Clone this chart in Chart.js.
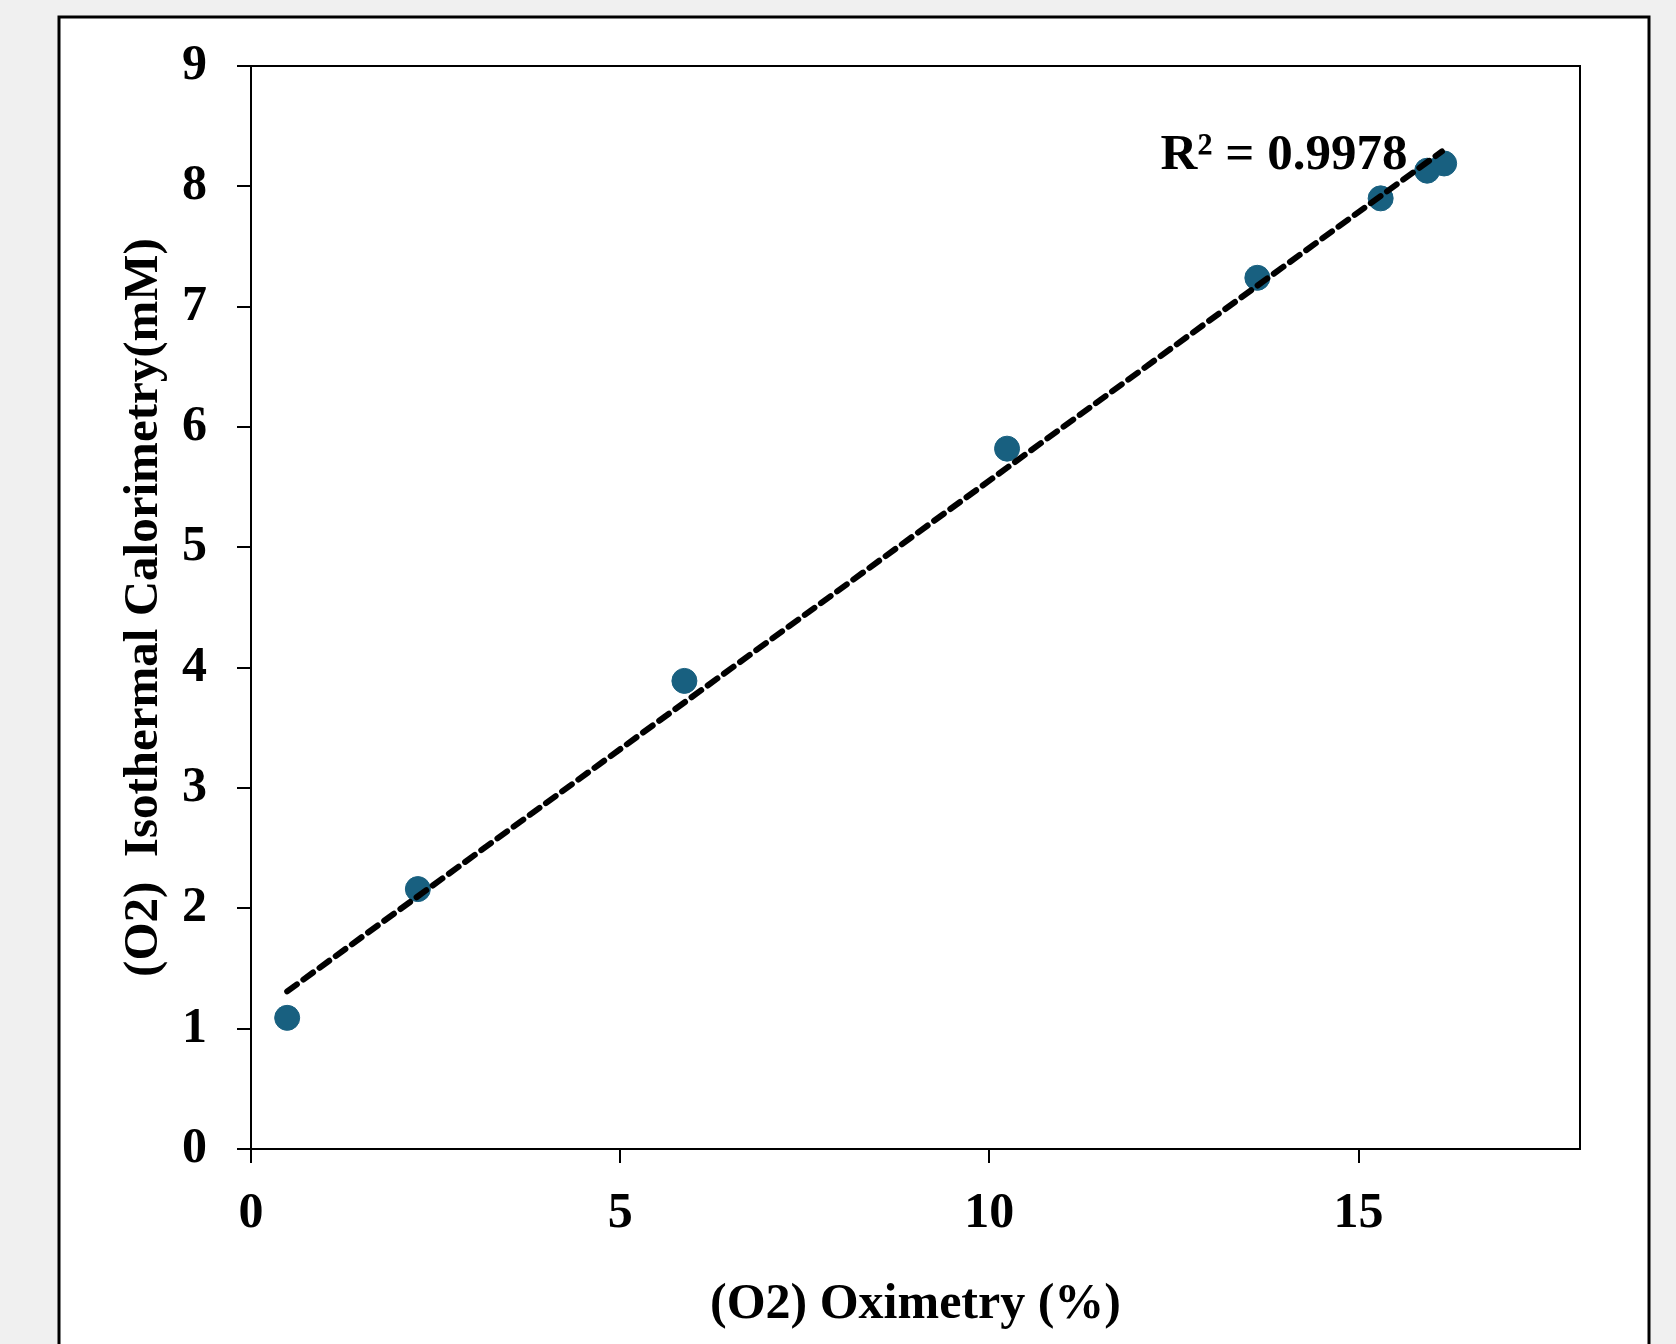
<!DOCTYPE html>
<html>
<head>
<meta charset="utf-8">
<script src="https://cdn.jsdelivr.net/npm/chart.js@4.4.1/dist/chart.umd.min.js"></script>
<style>
  html, body { margin: 0; padding: 0; background: #f0f0f0; overflow: hidden; }
  #chart { position: absolute; left: 0; top: 0; }
</style>
</head>
<body>
<canvas id="chart" width="1676" height="1344"></canvas>
<script>
// measured points
const oximetry = [0.49, 2.26, 5.87, 10.24, 13.63, 15.30, 15.93, 16.16]
const calorimetry = [1.09, 2.16, 3.89, 5.82, 7.24, 7.90, 8.13, 8.19]

// linear trendline ends
const trendX = [0.49, 16.13]
const trendY = [1.31, 8.29]

const rSquaredLabel = 'R² = 0.9978'
const labelAt = [13.99, 8.25]

const xTickValues = [0, 5, 10, 15]
const xTitle = '(O2) Oximetry (%)'
const yTitle = '(O2)  Isothermal Calorimetry(mM)'

const serif = 'Liberation Serif'

let points = []
for (let i = 0; i < oximetry.length; i++) {
    points.push({x: oximetry[i], y: calorimetry[i]})
}
let trend = []
for (let i = 0; i < trendX.length; i++) {
    trend.push({x: trendX[i], y: trendY[i]})
}

const framePlugin = {
    id: 'frame',
    beforeDraw(chart) {
        const ctx = chart.ctx
        ctx.save()
        ctx.fillStyle = '#f0f0f0'
        ctx.fillRect(0, 0, chart.width, chart.height)
        ctx.fillStyle = '#ffffff'
        ctx.fillRect(59, 17, 1590, 1400)
        ctx.strokeStyle = '#000'
        ctx.lineWidth = 3
        ctx.strokeRect(59, 17, 1590, 1400)
        ctx.restore()
    },
    afterDatasetsDraw(chart) {
        const ctx = chart.ctx
        const a = chart.chartArea
        ctx.save()
        ctx.strokeStyle = '#000'
        ctx.lineWidth = 2
        ctx.strokeRect(a.left, a.top, a.right - a.left, a.bottom - a.top)
        // R² text
        ctx.fillStyle = '#000'
        ctx.font = 'bold 51px "' + serif + '"'
        ctx.textAlign = 'center'
        ctx.textBaseline = 'middle'
        ctx.fillText(rSquaredLabel, chart.scales.x.getPixelForValue(labelAt[0]), chart.scales.y.getPixelForValue(labelAt[1]))
        ctx.restore()
    }
}

new Chart(document.getElementById('chart'), {
    type: 'scatter',
    data: {
        datasets: [{
            type: 'line',
            label: 'Linear',
            data: trend,
            borderColor: '#000',
            borderWidth: 6,
            borderDash: [12, 8],
            borderCapStyle: 'round',
            pointRadius: 0,
            fill: false,
            order: 0
        }, {
            label: 'O2',
            data: points,
            backgroundColor: '#186080',
            borderColor: '#186080',
            pointRadius: 12.5,
            pointHoverRadius: 12.5,
            order: 1
        }]
    },
    options: {
        responsive: false,
        animation: false,
        layout: {
            padding: {left: 0, top: 66, right: 96, bottom: 0}
        },
        plugins: {
            legend: {display: false},
            tooltip: {enabled: false}
        },
        scales: {
            x: {
                type: 'linear',
                min: 0,
                max: 18,
                afterBuildTicks: (scale) => {
                    scale.ticks = xTickValues.map(v => ({value: v}))
                },
                afterFit: (scale) => { scale.height = 195 },
                grid: {
                    drawOnChartArea: false,
                    color: '#000',
                    lineWidth: 2,
                    tickLength: 14
                },
                border: {color: '#000', width: 2},
                ticks: {
                    color: '#000',
                    padding: 21,
                    maxRotation: 0,
                    font: {family: serif, size: 50, weight: 'bold'}
                },
                title: {
                    display: true,
                    text: xTitle,
                    color: '#000',
                    padding: {top: 0, bottom: 9},
                    font: {family: serif, size: 50, weight: 'bold'}
                }
            },
            y: {
                type: 'linear',
                min: 0,
                max: 9,
                afterFit: (scale) => { scale.width = 251 },
                grid: {
                    drawOnChartArea: false,
                    color: '#000',
                    lineWidth: 2,
                    tickLength: 14
                },
                border: {color: '#000', width: 2},
                ticks: {
                    stepSize: 1,
                    color: '#000',
                    padding: 30,
                    font: {family: serif, size: 50, weight: 'bold'}
                },
                title: {
                    display: true,
                    text: yTitle,
                    color: '#000',
                    padding: {top: 115, bottom: 0},
                    font: {family: serif, size: 49, weight: 'bold'}
                }
            }
        }
    },
    plugins: [framePlugin]
});
</script>
</body>
</html>
